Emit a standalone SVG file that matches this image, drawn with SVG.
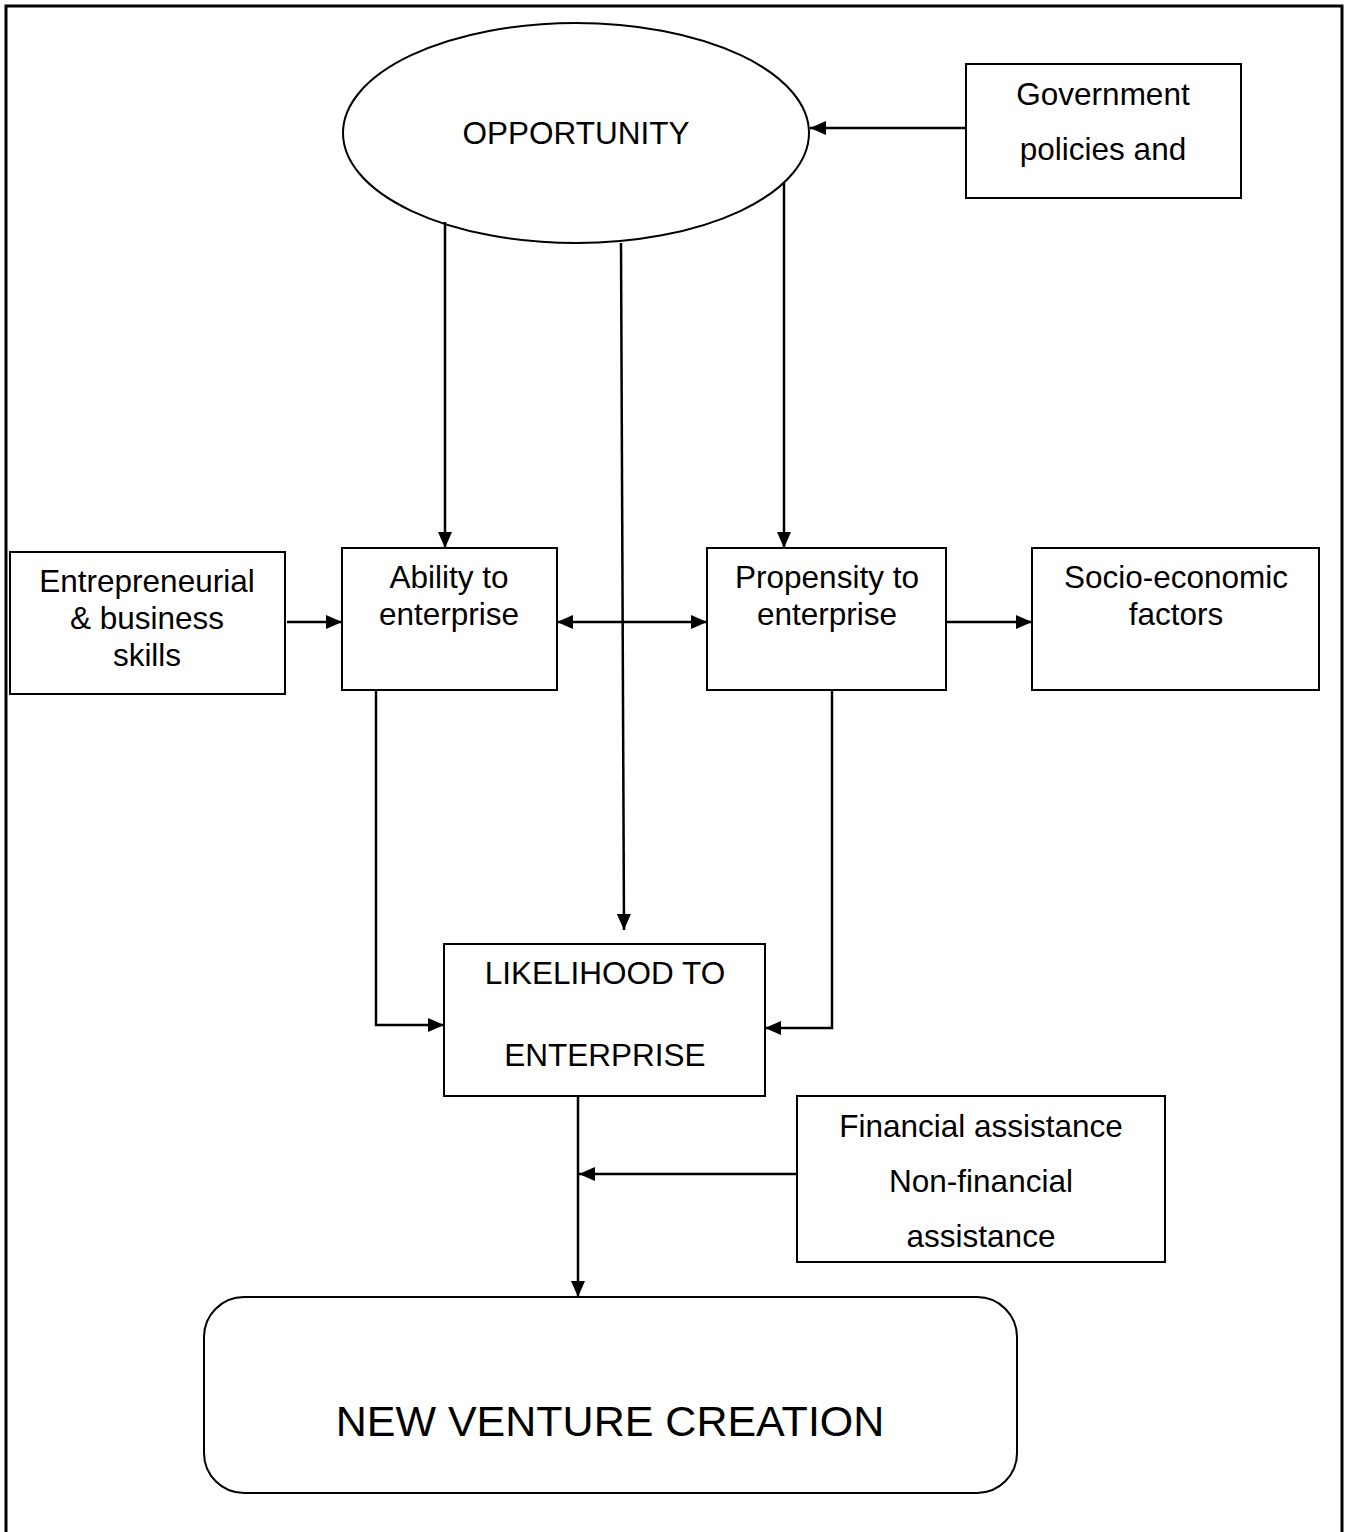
<svg xmlns="http://www.w3.org/2000/svg" width="1349" height="1532" viewBox="0 0 1349 1532">
<defs>
<marker id="ah" viewBox="0 0 16 14" refX="16" refY="7" markerWidth="16" markerHeight="14" markerUnits="userSpaceOnUse" orient="auto-start-reverse">
<path d="M0,0 L16,7 L0,14 Z" fill="#000"/>
</marker>
<style>
.box{fill:#fff;stroke:#000;stroke-width:2}
.t{font-family:"Liberation Sans",Arial,sans-serif;font-size:31.5px;fill:#000;text-anchor:middle}
.big{font-size:43px}
.c{fill:none;stroke:#000;stroke-width:2.5}
</style>
</defs>
<rect x="0" y="0" width="1349" height="1532" fill="#fff"/>
<path d="M6,1532 V6 H1342 V1532" fill="none" stroke="#000" stroke-width="3"/>

<g id="connectors">
<line class="c" x1="966" y1="128" x2="810" y2="128" marker-end="url(#ah)"/>
<line class="c" x1="445" y1="222" x2="445" y2="548" marker-end="url(#ah)"/>
<line class="c" x1="621" y1="243" x2="624" y2="930" marker-end="url(#ah)"/>
<line class="c" x1="784" y1="183" x2="784" y2="548" marker-end="url(#ah)"/>
<line class="c" x1="287" y1="622" x2="342" y2="622" marker-end="url(#ah)"/>
<line class="c" x1="557" y1="622" x2="707" y2="622" marker-start="url(#ah)" marker-end="url(#ah)"/>
<line class="c" x1="946" y1="622" x2="1032" y2="622" marker-end="url(#ah)"/>
<polyline class="c" points="376,690 376,1025 444,1025" marker-end="url(#ah)"/>
<polyline class="c" points="832,690 832,1028 765,1028" marker-end="url(#ah)"/>
<line class="c" x1="578" y1="1096" x2="578" y2="1297" marker-end="url(#ah)"/>
<line class="c" x1="797" y1="1174" x2="579" y2="1174" marker-end="url(#ah)"/>
</g>

<g id="opportunity">
<ellipse cx="576" cy="133" rx="233" ry="110" fill="none" stroke="#000" stroke-width="2"/>
<text class="t" x="576" y="144">OPPORTUNITY</text>
</g>

<g id="government">
<rect class="box" x="966" y="64" width="275" height="134"/>
<text class="t" x="1103" y="105">Government</text>
<text class="t" x="1103" y="160">policies and</text>
</g>

<g id="entrepreneurial">
<rect class="box" x="10" y="552" width="275" height="142"/>
<text class="t" x="147" y="592">Entrepreneurial</text>
<text class="t" x="147" y="629">&amp; business</text>
<text class="t" x="147" y="666">skills</text>
</g>

<g id="ability">
<rect class="box" x="342" y="548" width="215" height="142"/>
<text class="t" x="449" y="588">Ability to</text>
<text class="t" x="449" y="625">enterprise</text>
</g>

<g id="propensity">
<rect class="box" x="707" y="548" width="239" height="142"/>
<text class="t" x="827" y="588">Propensity to</text>
<text class="t" x="827" y="625">enterprise</text>
</g>

<g id="socio">
<rect class="box" x="1032" y="548" width="287" height="142"/>
<text class="t" x="1176" y="588">Socio-economic</text>
<text class="t" x="1176" y="625">factors</text>
</g>

<g id="likelihood">
<rect class="box" x="444" y="944" width="321" height="152"/>
<text class="t" x="605" y="984">LIKELIHOOD TO</text>
<text class="t" x="605" y="1066">ENTERPRISE</text>
</g>

<g id="assistance">
<rect class="box" x="797" y="1096" width="368" height="166"/>
<text class="t" x="981" y="1137">Financial assistance</text>
<text class="t" x="981" y="1192">Non-financial</text>
<text class="t" x="981" y="1247">assistance</text>
</g>

<g id="nvc">
<rect class="box" x="204" y="1297" width="813" height="196" rx="40" ry="40"/>
<text class="t big" x="610" y="1436">NEW VENTURE CREATION</text>
</g>
</svg>
